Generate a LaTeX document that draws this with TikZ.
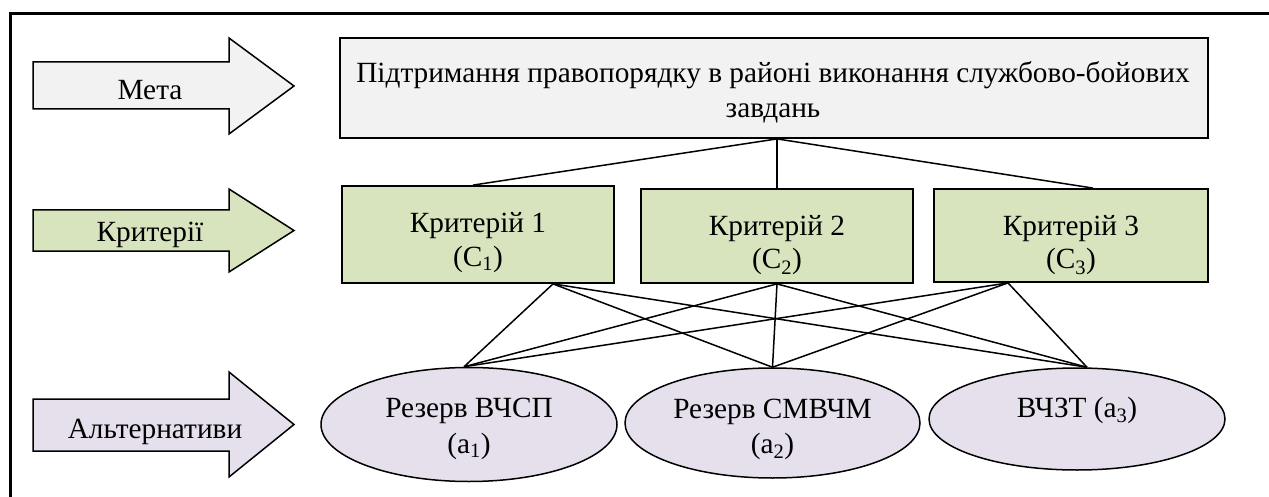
\documentclass[tikz,border=0pt]{standalone}
\usepackage{fontspec}
\setmainfont{Liberation Serif}
\usetikzlibrary{shapes.geometric}
\definecolor{goalgray}{HTML}{F2F2F2}
\definecolor{critgreen}{HTML}{D7E4BD}
\definecolor{altpurple}{HTML}{E5E0EC}
\tikzset{
  every node/.style={font=\fontsize{29.3pt}{35pt}\selectfont},
  txt/.style={inner sep=0pt, anchor=base},
  goalbox/.style={draw, line width=1.8pt, fill=goalgray, inner sep=0pt, minimum width=868pt, minimum height=100pt},
  critbox/.style={draw, line width=1.8pt, fill=critgreen, inner sep=0pt, minimum width=272pt},
  altell/.style={draw, ellipse, line width=1.5pt, fill=altpurple, inner sep=0pt, minimum width=296pt},
  bigarrow/.style={draw, line width=1.5pt, line join=miter},
  link/.style={line width=1.5pt},
  framebar/.style={line width=3pt}
}
\begin{document}
\begin{tikzpicture}[x=1pt,y=-1pt]
\useasboundingbox (0,0) rectangle (1269,497);
% outer frame (top and left only)
\draw[framebar] (1269,14) -- (10.7,14) -- (10.7,497);

% left arrows
\draw[bigarrow, fill=goalgray] (33,62) -- (229,62) -- (229,38) -- (294,86) -- (229,134) -- (229,109) -- (33,109) -- cycle;
\node[txt] (lgoal) at (150,100) {Мета};
\draw[bigarrow, fill=critgreen] (33,210) -- (229,210) -- (229,189) -- (294,230.5) -- (229,272) -- (229,251) -- (33,251) -- cycle;
\node[txt] (lcrit) at (150,242) {Критерії};
\draw[bigarrow, fill=altpurple] (33,399) -- (229,399) -- (229,372) -- (294,424.5) -- (229,477) -- (229,451) -- (33,451) -- cycle;
\node[txt] (lalt) at (155,438) {Альтернативи};

% goal
\node[goalbox] (goal) at (774,88) {};
\node[txt] (goal1) at (773,83) {Підтримання правопорядку в районі виконання службово-бойових};
\node[txt] (goal2) at (773,118) {завдань};

% criteria
\node[critbox, minimum height=97pt] (c1) at (478,234.5) {};
\node[critbox, minimum height=94pt] (c2) at (777,236) {};
\node[critbox, minimum width=274pt, minimum height=93pt] (c3) at (1071,235.5) {};
\node[txt] (c1a) at (478,233) {Критерій 1};
\node[txt] (c1b2) at (478,266) {(C\textsubscript{1})};
\node[txt] (c2a) at (777,236) {Критерій 2};
\node[txt] (c2b2) at (777,269) {(C\textsubscript{2})};
\node[txt] (c3a) at (1071,236) {Критерій 3};
\node[txt] (c3b2) at (1071,269) {(C\textsubscript{3})};

% alternatives
\node[altell, minimum height=114pt] (a1) at (469,424.5) {};
\node[altell, minimum width=295pt, minimum height=110pt] (a2) at (772.5,423) {};
\node[altell, minimum height=102pt] (a3) at (1077,419) {};
\node[txt] (a1a) at (469,417) {Резерв ВЧСП};
\node[txt] (a1b) at (469,453) {(a\textsubscript{1})};
\node[txt] (a2a) at (772.5,418) {Резерв СМВЧМ};
\node[txt] (a2b) at (772.5,453) {(a\textsubscript{2})};
\node[txt] (a3a) at (1077,417) {ВЧЗТ (a\textsubscript{3})};

% connection points
\coordinate (g0) at ([xshift=3pt]goal.south);
\coordinate (c1t) at ([xshift=-5pt]c1.north);
\coordinate (c2t) at (c2.north);
\coordinate (c3t) at ([xshift=22pt]c3.north);
\coordinate (c1b) at ([xshift=75pt]c1.south);
\coordinate (c2b) at (c2.south);
\coordinate (c3b) at ([xshift=-63pt]c3.south);
\coordinate (a1t) at ([xshift=-5pt]a1.north);
\coordinate (a2t) at (a2.north);
\coordinate (a3t) at ([xshift=10pt]a3.north);

\draw[link] (g0) -- (c1t);
\draw[link] (g0) -- (c2t);
\draw[link] (g0) -- (c3t);
\foreach \c in {c1b,c2b,c3b}{
  \foreach \a in {a1t,a2t,a3t}{
    \draw[link] (\c) -- (\a);
  }
}
\end{tikzpicture}
\end{document}
